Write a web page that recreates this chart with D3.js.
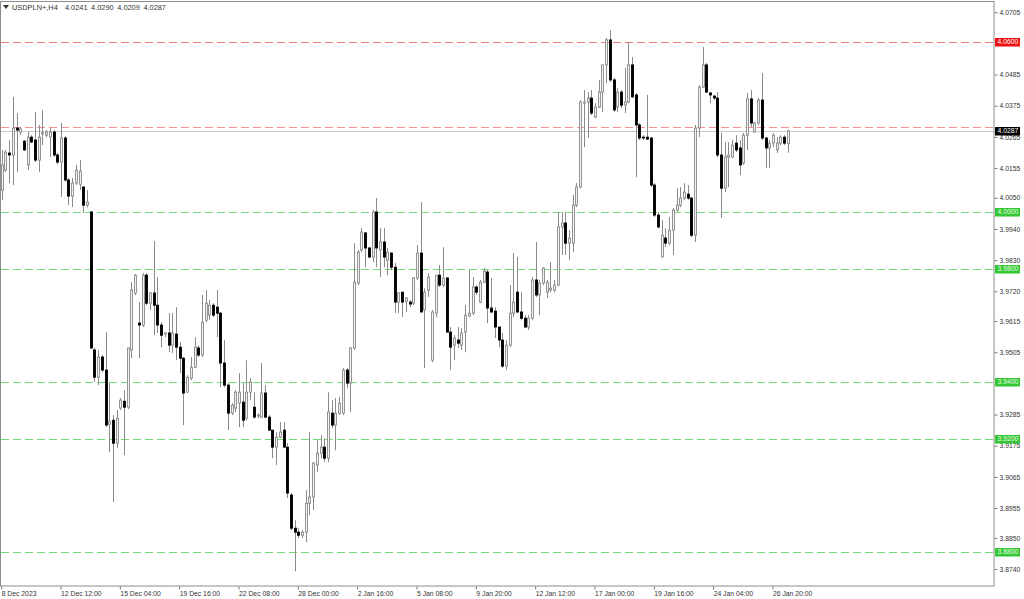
<!DOCTYPE html>
<html>
<head>
<meta charset="utf-8">
<script src="https://cdn.jsdelivr.net/npm/d3@7"></script>
<style>
  html, body { margin: 0; padding: 0; background: #fff; }
  svg { display: block; font-family: "Liberation Sans", Arial, sans-serif; }
</style>
</head>
<body>
<div id="chart"></div>
<script>
const width = 1024;
const height = 599;

const symbol = "USDPLN+,H4";

// H4 bars, 8 Dec 2023 00:00 .. 29 Jan 2024 08:00
const opens = [
  4.0077,4.0148,4.0208,4.0201,4.0296,4.0282,4.0250,4.0166,4.0264,4.0254,
  4.0183,4.0275,4.0271,4.0264,4.0282,4.0201,4.0176,4.0261,4.0113,4.0056,
  4.0102,4.0098,4.0088,4.0024,4.0000,3.9513,3.9417,3.9488,3.9442,3.9251,
  3.9265,3.9184,3.9308,3.9332,3.9311,3.9513,3.9714,3.9608,3.9601,3.9777,
  3.9678,3.9714,3.9671,3.9601,3.9569,3.9573,3.9530,3.9569,3.9523,3.9484,
  3.9364,3.9414,3.9452,3.9520,3.9495,3.9618,3.9636,3.9671,3.9664,3.9643,
  3.9467,3.9389,3.9290,3.9308,3.9325,3.9329,3.9272,3.9364,3.9311,3.9280,
  3.9276,3.9361,3.9276,3.9230,3.9170,3.9205,3.9230,3.9170,3.9001,3.8884,
  3.8870,3.8859,3.8870,3.8972,3.8994,3.9107,3.9149,3.9170,3.9131,3.9290,
  3.9248,3.9290,3.9290,3.9442,3.9396,3.9520,3.9749,3.9866,3.9926,3.9873,
  3.9841,4.0000,3.9866,3.9894,3.9830,3.9855,3.9805,3.9682,3.9717,3.9685,
  3.9682,3.9678,3.9767,3.9855,3.9654,3.9724,3.9477,3.9643,3.9777,3.9742,
  3.9767,3.9576,3.9530,3.9548,3.9530,3.9576,3.9633,3.9643,3.9735,3.9682,
  3.9752,3.9788,3.9661,3.9650,3.9594,3.9548,3.9456,3.9530,3.9643,3.9717,
  3.9647,3.9625,3.9594,3.9625,3.9760,3.9707,3.9749,3.9717,3.9724,3.9724,
  3.9742,3.9947,3.9961,3.9890,3.9890,4.0024,4.0088,4.0384,4.0388,4.0402,
  4.0335,4.0370,4.0423,4.0519,4.0607,4.0466,4.0370,4.0423,4.0377,4.0388,
  4.0519,4.0413,4.0307,4.0264,4.0264,4.0261,4.0095,3.9989,3.9841,3.9908,
  3.9890,3.9936,4.0007,4.0024,4.0049,4.0063,4.0049,3.9918,4.0296,4.0441,
  4.0519,4.0420,4.0409,4.0402,4.0201,4.0084,4.0194,4.0194,4.0243,4.0226,
  4.0173,4.0271,4.0399,4.0282,4.0314,4.0395,4.0261,4.0226,4.0243,4.0219,
  4.0243,4.0264,4.0241
];
const highs = [
  4.0219,4.0219,4.0254,4.0406,4.0349,4.0300,4.0254,4.0282,4.0271,4.0353,
  4.0307,4.0360,4.0289,4.0296,4.0289,4.0208,4.0314,4.0268,4.0120,4.0120,
  4.0166,4.0183,4.0091,4.0077,4.0003,3.9520,3.9513,3.9495,3.9576,3.9396,
  3.9283,3.9301,3.9343,3.9371,3.9520,3.9752,3.9781,3.9682,3.9784,3.9784,
  3.9717,3.9897,3.9770,3.9611,3.9576,3.9643,3.9643,3.9664,3.9541,3.9488,
  3.9424,3.9488,3.9558,3.9530,3.9707,3.9724,3.9689,3.9678,3.9724,3.9647,
  3.9548,3.9396,3.9325,3.9371,3.9431,3.9396,3.9477,3.9414,3.9364,3.9290,
  3.9467,3.9389,3.9283,3.9230,3.9223,3.9258,3.9258,3.9184,3.9008,3.8912,
  3.8884,3.8877,3.9018,3.9223,3.9117,3.9195,3.9212,3.9202,3.9364,3.9336,
  3.9343,3.9347,3.9449,3.9449,3.9523,3.9890,3.9866,3.9943,3.9929,3.9876,
  4.0007,4.0049,3.9943,3.9943,3.9873,3.9858,3.9820,3.9717,3.9717,3.9700,
  3.9689,3.9770,3.9883,4.0035,3.9731,3.9784,3.9654,3.9777,3.9813,3.9876,
  3.9770,3.9594,3.9565,3.9594,3.9590,3.9671,3.9795,3.9770,3.9742,3.9760,
  3.9802,3.9795,3.9767,3.9664,3.9594,3.9573,3.9548,3.9742,3.9855,3.9841,
  3.9717,3.9636,3.9636,3.9770,3.9894,3.9760,3.9805,3.9760,3.9823,3.9760,
  4.0000,4.0000,4.0000,3.9936,4.0060,4.0102,4.0395,4.0430,4.0423,4.0430,
  4.0384,4.0466,4.0519,4.0614,4.0642,4.0473,4.0437,4.0430,4.0508,4.0600,
  4.0547,4.0420,4.0314,4.0271,4.0413,4.0264,4.0102,4.0000,3.9971,3.9943,
  3.9982,4.0014,4.0084,4.0088,4.0102,4.0095,4.0053,4.0307,4.0448,4.0582,
  4.0526,4.0423,4.0413,4.0423,4.0279,4.0247,4.0247,4.0254,4.0271,4.0254,
  4.0279,4.0420,4.0430,4.0317,4.0402,4.0490,4.0264,4.0254,4.0279,4.0264,
  4.0271,4.0271,4.0290
];
const lows = [
  4.0042,4.0141,4.0102,4.0095,4.0141,4.0271,4.0215,4.0148,4.0243,4.0176,
  4.0141,4.0236,4.0264,4.0194,4.0194,4.0169,4.0053,4.0106,4.0024,4.0017,
  4.0095,4.0077,3.9996,4.0017,3.9516,3.9400,3.9389,3.9435,3.9241,3.9152,
  3.8976,3.9167,3.9301,3.9142,3.9304,3.9484,3.9707,3.9484,3.9594,3.9671,
  3.9654,3.9565,3.9573,3.9523,3.9558,3.9505,3.9502,3.9477,3.9431,3.9248,
  3.9361,3.9407,3.9449,3.9488,3.9488,3.9611,3.9618,3.9629,3.9558,3.9382,
  3.9382,3.9230,3.9283,3.9294,3.9241,3.9241,3.9265,3.9336,3.9272,3.9272,
  3.9272,3.9272,3.9230,3.9131,3.9107,3.9202,3.9170,3.8990,3.8877,3.8732,
  3.8849,3.8849,3.8835,3.8930,3.8948,3.9082,3.9131,3.9117,3.9117,3.9237,
  3.9159,3.9283,3.9283,3.9378,3.9294,3.9513,3.9742,3.9858,3.9805,3.9837,
  3.9823,3.9805,3.9770,3.9805,3.9777,3.9795,3.9643,3.9643,3.9629,3.9647,
  3.9664,3.9671,3.9760,3.9647,3.9449,3.9700,3.9470,3.9629,3.9735,3.9735,
  3.9576,3.9442,3.9477,3.9520,3.9513,3.9505,3.9629,3.9636,3.9707,3.9678,
  3.9749,3.9608,3.9643,3.9555,3.9523,3.9449,3.9442,3.9523,3.9629,3.9643,
  3.9618,3.9590,3.9583,3.9618,3.9700,3.9636,3.9742,3.9696,3.9717,3.9717,
  3.9738,3.9848,3.9848,3.9830,3.9858,4.0017,4.0084,4.0229,4.0261,4.0342,
  4.0331,4.0367,4.0353,4.0455,4.0459,4.0353,4.0353,4.0367,4.0349,4.0384,
  4.0402,4.0123,4.0254,4.0254,4.0254,4.0088,3.9982,3.9943,3.9841,3.9876,
  3.9883,3.9848,4.0000,4.0017,4.0042,4.0042,3.9911,3.9894,4.0264,4.0437,
  4.0420,4.0384,4.0395,4.0194,3.9978,4.0070,4.0088,4.0190,4.0211,4.0130,
  4.0166,4.0219,4.0300,4.0279,4.0307,4.0254,4.0155,4.0155,4.0229,4.0208,
  4.0236,4.0236,4.0209
];
const closes = [
  4.0166,4.0211,4.0201,4.0296,4.0289,4.0293,4.0219,4.0264,4.0247,4.0183,
  4.0264,4.0279,4.0282,4.0282,4.0201,4.0176,4.0261,4.0113,4.0056,4.0102,
  4.0148,4.0144,4.0024,4.0035,3.9520,3.9417,3.9488,3.9442,3.9248,3.9262,
  3.9184,3.9272,3.9336,3.9311,3.9520,3.9724,3.9777,3.9601,3.9777,3.9678,
  3.9714,3.9671,3.9601,3.9565,3.9573,3.9530,3.9573,3.9523,3.9484,3.9361,
  3.9417,3.9452,3.9523,3.9495,3.9611,3.9678,3.9671,3.9636,3.9643,3.9467,
  3.9389,3.9290,3.9318,3.9364,3.9364,3.9265,3.9364,3.9400,3.9276,3.9283,
  3.9361,3.9276,3.9230,3.9170,3.9205,3.9223,3.9170,3.9008,3.8884,3.8870,
  3.8859,3.8870,3.8972,3.8994,3.9114,3.9149,3.9170,3.9131,3.9294,3.9248,
  3.9290,3.9325,3.9442,3.9396,3.9520,3.9752,3.9858,3.9929,3.9873,3.9841,
  4.0000,3.9873,3.9894,3.9841,3.9858,3.9805,3.9682,3.9714,3.9682,3.9696,
  3.9675,3.9767,3.9855,3.9647,3.9717,3.9770,3.9647,3.9777,3.9742,3.9767,
  3.9576,3.9523,3.9555,3.9537,3.9573,3.9636,3.9643,3.9735,3.9717,3.9752,
  3.9791,3.9661,3.9647,3.9594,3.9548,3.9456,3.9530,3.9643,3.9682,3.9647,
  3.9625,3.9594,3.9625,3.9760,3.9707,3.9749,3.9802,3.9752,3.9731,3.9742,
  3.9947,3.9961,3.9890,3.9908,4.0024,4.0088,4.0388,4.0388,4.0402,4.0349,
  4.0370,4.0423,4.0519,4.0607,4.0466,4.0360,4.0423,4.0377,4.0388,4.0519,
  4.0406,4.0307,4.0261,4.0261,4.0257,4.0095,3.9989,3.9947,3.9918,3.9890,
  3.9936,4.0007,4.0024,4.0049,4.0070,4.0049,3.9918,4.0296,4.0441,4.0519,
  4.0423,4.0413,4.0402,4.0201,4.0084,4.0194,4.0201,4.0236,4.0219,4.0166,
  4.0271,4.0399,4.0314,4.0314,4.0395,4.0261,4.0226,4.0243,4.0271,4.0243,
  4.0264,4.0243,4.0287
];

const timeLabels = ["8 Dec 2023", "12 Dec 12:00", "15 Dec 04:00", "19 Dec 16:00", "22 Dec 08:00",
  "28 Dec 00:00", "2 Jan 16:00", "5 Jan 08:00", "9 Jan 20:00", "12 Jan 12:00",
  "17 Jan 00:00", "19 Jan 16:00", "24 Jan 04:00", "26 Jan 20:00"];
const timeLabelBars = [0, 16, 32, 48, 64, 80, 96, 112, 128, 144, 160, 176, 192, 208];

const priceTicks = [4.0705, 4.0485, 4.0375, 4.0265, 4.0155, 4.0050, 3.9940, 3.9830, 3.9720,
  3.9615, 3.9505, 3.9285, 3.9175, 3.9065, 3.8955, 3.8850, 3.8740];

const greenLevels = [4.0000, 3.9800, 3.9400, 3.9200, 3.8800];
const redLevel = 4.0600;
const pinkLevel = 4.0300;
const bidPrice = 4.0287;

const plotRight = 994;
const plotBottom = 586;
const slot = 3.708;

const svg = d3.select("#chart")
  .append("svg")
  .attr("width", width)
  .attr("height", height);

const x = d3.scaleBand()
  .domain(d3.range(opens.length))
  .range([-0.154, -0.154 + slot * opens.length])
  .padding(0);

const y = d3.scaleLinear()
  .domain([3.8680, 4.0741])
  .range([plotBottom, 2]);

const cx = i => x(i) + x.bandwidth() / 2;

// level lines
const levels = svg.append("g");
levels.selectAll("line.green")
  .data(greenLevels)
  .enter()
  .append("line")
  .attr("class", "green")
  .attr("x1", 1).attr("x2", plotRight)
  .attr("y1", d => Math.round(y(d)) + 0.5)
  .attr("y2", d => Math.round(y(d)) + 0.5)
  .attr("stroke", "#74dc74")
  .attr("stroke-dasharray", "8,4");

levels.append("line")
  .attr("x1", 1).attr("x2", plotRight)
  .attr("y1", Math.round(y(redLevel)) + 0.5)
  .attr("y2", Math.round(y(redLevel)) + 0.5)
  .attr("stroke", "#ec7c76")
  .attr("stroke-dasharray", "8,4");

levels.append("line")
  .attr("x1", 1).attr("x2", plotRight)
  .attr("y1", Math.round(y(pinkLevel)) + 0.5)
  .attr("y2", Math.round(y(pinkLevel)) + 0.5)
  .attr("stroke", "#f29292")
  .attr("stroke-dasharray", "8,4");

levels.append("line")
  .attr("x1", 1).attr("x2", plotRight)
  .attr("y1", Math.round(y(bidPrice)) + 0.5)
  .attr("y2", Math.round(y(bidPrice)) + 0.5)
  .attr("stroke", "#c8c8c8");

// candles
const candles = svg.append("g")
  .selectAll("g")
  .data(d3.range(opens.length))
  .enter()
  .append("g");

candles.append("line")
  .attr("x1", i => Math.round(cx(i)) + 0.5)
  .attr("x2", i => Math.round(cx(i)) + 0.5)
  .attr("y1", i => y(highs[i]))
  .attr("y2", i => y(lows[i]))
  .attr("stroke", "#8a8a8a");

candles.append("rect")
  .attr("x", i => Math.round(cx(i)) - 0.5)
  .attr("y", i => y(Math.max(opens[i], closes[i])))
  .attr("width", 2)
  .attr("height", i => Math.max(0.6, Math.abs(y(opens[i]) - y(closes[i]))))
  .attr("fill", i => closes[i] >= opens[i] ? "#f2f2f2" : "#000000")
  .attr("stroke", i => closes[i] >= opens[i] ? "#8a8a8a" : "#000000")
  .attr("stroke-width", 0.9);

// frame
svg.append("rect")
  .attr("x", 0.5).attr("y", 1.5)
  .attr("width", plotRight - 0.5)
  .attr("height", plotBottom - 1.5)
  .attr("fill", "none")
  .attr("stroke", "#8c8c8c");

// price axis
const yAxis = d3.axisRight(y)
  .tickValues(priceTicks)
  .tickFormat(d3.format(".4f"))
  .tickSize(3)
  .tickPadding(2);

const yg = svg.append("g")
  .attr("transform", `translate(${plotRight + 0.5},0)`)
  .call(yAxis);
yg.select(".domain").remove();
yg.selectAll("line").attr("stroke", "#777");
yg.selectAll("text")
  .attr("fill", "#333")
  .style("font-size", "6.8px")
  .style("font-family", "'Liberation Sans', Arial, sans-serif");

// level labels
const levelLabels = [
  ...greenLevels.map(v => ({ v, fill: "#33c733", text: "#e8ffe8" })),
  { v: redLevel, fill: "#f01010", text: "#ffffff" },
  { v: bidPrice, fill: "#000000", text: "#ffffff" }
];
const lab = svg.append("g")
  .selectAll("g")
  .data(levelLabels)
  .enter()
  .append("g")
  .attr("transform", d => `translate(995,${Math.round(y(d.v))})`);
lab.append("rect")
  .attr("x", 0).attr("y", -4)
  .attr("width", 25).attr("height", 8.5)
  .attr("fill", d => d.fill);
lab.append("text")
  .attr("x", 2.5).attr("y", 0.5)
  .attr("dominant-baseline", "middle")
  .attr("fill", d => d.text)
  .style("font-size", "6.8px")
  .text(d => d.v.toFixed(4));

// time axis
const xAxis = d3.axisBottom(x)
  .tickValues(timeLabelBars)
  .tickFormat((d, k) => timeLabels[k])
  .tickSize(3)
  .tickPadding(2);

const xg = svg.append("g")
  .attr("transform", `translate(0,${plotBottom + 0.5})`)
  .call(xAxis);
xg.select(".domain").remove();
xg.selectAll("line").attr("stroke", "#777");
xg.selectAll("text")
  .attr("text-anchor", "start")
  .attr("x", 0)
  .attr("fill", "#333")
  .style("font-size", "6.8px")
  .style("font-family", "'Liberation Sans', Arial, sans-serif");

// header
svg.append("path")
  .attr("d", "M3,5 L9,5 L6,9 Z")
  .attr("fill", "#333");
svg.append("text")
  .attr("x", 12).attr("y", 9.5)
  .attr("fill", "#333")
  .style("font-size", "7.4px")
  .style("word-spacing", "1.5px")
  .attr("xml:space", "preserve")
  .text(`${symbol}  ${opens[opens.length - 1].toFixed(4)} ${highs[highs.length - 1].toFixed(4)} ${lows[lows.length - 1].toFixed(4)} ${closes[closes.length - 1].toFixed(4)}`);
</script>
</body>
</html>
